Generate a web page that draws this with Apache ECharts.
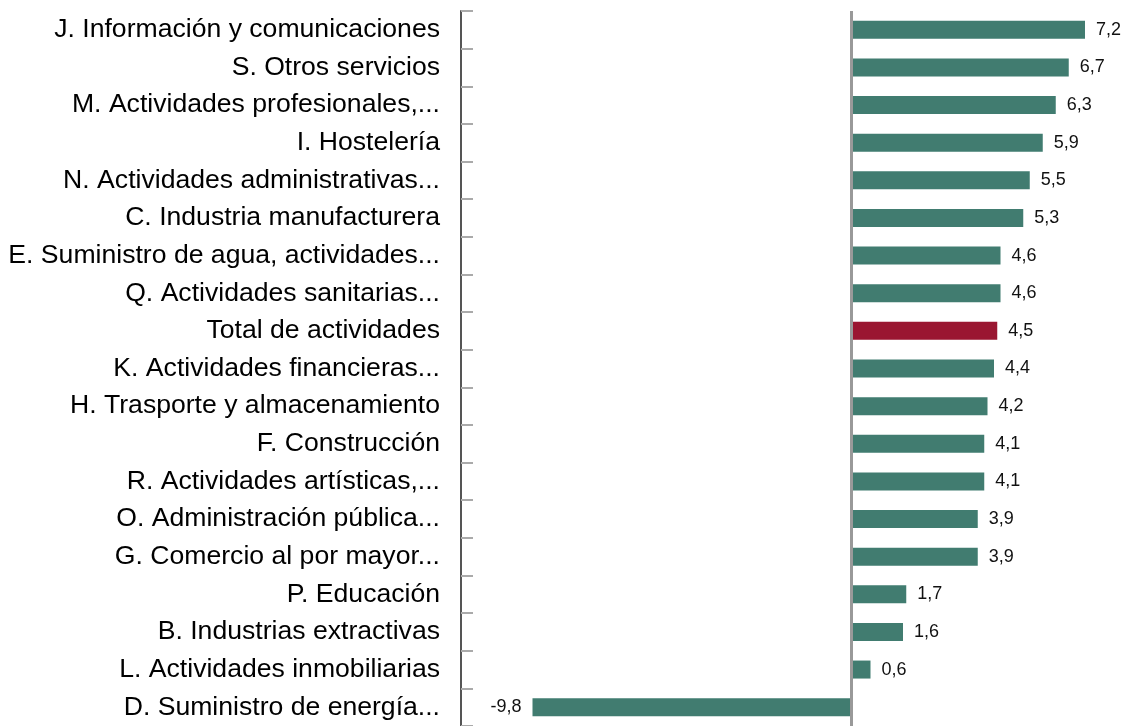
<!DOCTYPE html>
<html>
<head>
<meta charset="utf-8">
<script src="https://cdn.jsdelivr.net/npm/echarts@6/dist/echarts.min.js"></script>
<style>
html,body{margin:0;padding:0;background:#fff;}
#chart{width:1124px;height:726px;}
</style>
</head>
<body>
<div id="chart"></div>
<script>
const categories = [
  "J. Información y comunicaciones",
  "S. Otros servicios",
  "M. Actividades profesionales,...",
  "I. Hostelería",
  "N. Actividades administrativas...",
  "C. Industria manufacturera",
  "E. Suministro de agua, actividades...",
  "Q. Actividades sanitarias...",
  "Total de actividades",
  "K. Actividades financieras...",
  "H. Trasporte y almacenamiento",
  "F. Construcción",
  "R. Actividades artísticas,...",
  "O. Administración pública...",
  "G. Comercio al por mayor...",
  "P. Educación",
  "B. Industrias extractivas",
  "L. Actividades inmobiliarias",
  "D. Suministro de energía..."
];
const values = [7.2, 6.7, 6.3, 5.9, 5.5, 5.3, 4.6, 4.6, 4.5, 4.4, 4.2, 4.1, 4.1, 3.9, 3.9, 1.7, 1.6, 0.6, -9.8];
const highlightCategory = "Total de actividades";

const seriesData = values.map((v, i) => ({
  value: v,
  itemStyle: {color: categories[i] === highlightCategory ? '#9a1631' : '#417c70'},
  label: {position: v < 0 ? 'left' : 'right'}
}));

const chart = echarts.init(document.getElementById('chart'), null, {renderer: 'canvas'});
chart.setOption({
  animation: false,
  backgroundColor: '#fff',
  grid: {left: 461, right: 13, top: 11, height: 717, containLabel: false},
  xAxis: {
    type: 'value', min: -12, max: 8,
    show: false,
    splitLine: {show: false}
  },
  yAxis: {
    type: 'category',
    data: categories,
    inverse: true,
    axisLine: {show: true, onZero: false, lineStyle: {color: '#555', width: 2}},
    axisTick: {show: true, inside: true, length: 12, lineStyle: {color: '#aaa', width: 2}},
    axisLabel: {
      margin: 21,
      color: '#000',
      fontSize: 26.6,
      padding: [5, 0, 0, 0],
      fontFamily: 'Liberation Sans, Arial, sans-serif'
    }
  },
  series: [{
    type: 'bar',
    data: seriesData,
    barWidth: 18,
    label: {
      show: true,
      distance: 11,
      fontSize: 18,
      color: '#111',
      fontFamily: 'Liberation Sans, Arial, sans-serif',
      formatter: p => p.value.toFixed(1).replace('.', ',')
    },
    markLine: {
      silent: true,
      symbol: 'none',
      label: {show: false},
      lineStyle: {color: '#999', width: 3, type: 'solid'},
      data: [{xAxis: 0}]
    }
  }]
});
</script>
</body>
</html>
